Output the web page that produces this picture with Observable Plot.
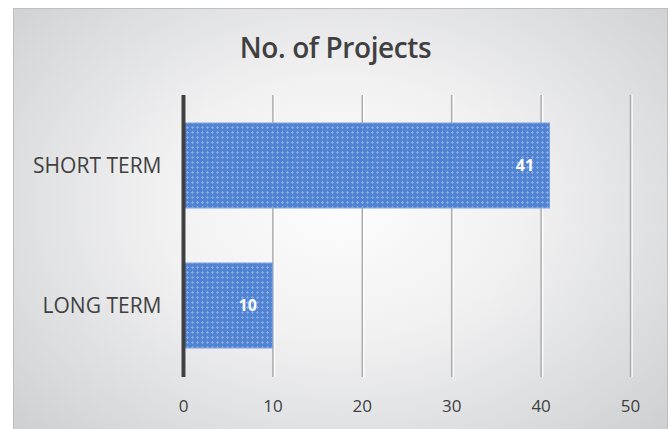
<!DOCTYPE html>
<html>
<head>
<meta charset="utf-8">
<script src="https://cdn.jsdelivr.net/npm/d3@7"></script>
<script src="https://cdn.jsdelivr.net/npm/@observablehq/plot@0.6"></script>
<style>
  html, body { margin: 0; padding: 0; background: #ffffff; }
  #wrap { position: relative; width: 671px; height: 429px; overflow: hidden; font-family: "Open Sans", sans-serif; }
  #box { position: absolute; left: 13px; top: 8px; width: 653px; height: 440px; border: 1px solid #bfbfbf;
         background: radial-gradient(ellipse 70% 75% at 50% 45%, #fdfdfd 0%, #f1f1f2 40%, #d9dadc 80%, #cdcecf 100%); }
  #title { position: relative; height: 80px; box-sizing: border-box; padding-top: 29px; line-height: 36px;
           text-align: center; font-size: 28px; font-weight: 600; color: #404040; letter-spacing: -0.4px; }
  #chart { position: relative; }
  #chart svg { display: block; }
</style>
</head>
<body>
<div id="wrap">
  <div id="box"></div>
  <div id="title">No. of Projects</div>
  <div id="chart"></div>
</div>
<script>
const categories = ["SHORT TERM", "LONG TERM"];
const values = [41, 10];
const xTicks = [0, 10, 20, 30, 40, 50];

const data = categories.map((c, i) => ({category: c, value: values[i]}));

const chart = Plot.plot({
  width: 671,
  height: 349,
  marginLeft: 183,
  marginRight: 41,
  marginTop: 15,
  marginBottom: 52,
  style: {background: "transparent", fontFamily: "Open Sans, sans-serif", color: "#404040", overflow: "visible"},
  x: {domain: [0, 50], label: null},
  y: {domain: categories, paddingInner: 0.39, paddingOuter: 0.2, label: null},
  marks: [
    Plot.gridX(xTicks, {stroke: "#ffffff", strokeOpacity: 0.9, strokeWidth: 1.5, dx: 1.5}),
    Plot.gridX(xTicks, {stroke: "#acacac", strokeOpacity: 1, strokeWidth: 1.5}),
    Plot.barX(data, {x: "value", y: "category", fill: "url(#dots)", stroke: "#7aa0de", strokeWidth: 1}),
    Plot.ruleX([0], {stroke: "#404040", strokeWidth: 4}),
    Plot.text(data, {x: "value", y: "category", text: d => String(d.value), textAnchor: "end", dx: -16,
                     fill: "#ffffff", fontWeight: "bold", fontSize: 16}),
    Plot.axisX(xTicks, {tickSize: 0, tickPadding: 22, fontSize: 17, fill: "#404040", label: null}),
    Plot.axisY({tickSize: 0, tickPadding: 22, fontSize: 21, fill: "#404040", label: null})
  ]
});

d3.select(chart).insert("defs", ":first-child").html(`
  <pattern id="dots" x="0" y="0" width="5" height="5" patternUnits="userSpaceOnUse">
    <rect width="5" height="5" fill="#5083d2"></rect>
    <rect x="2" y="1" width="1" height="3" fill="#86a9e4"></rect>
    <rect x="1" y="2" width="3" height="1" fill="#86a9e4"></rect>
  </pattern>`);

document.getElementById("chart").append(chart);
</script>
</body>
</html>
